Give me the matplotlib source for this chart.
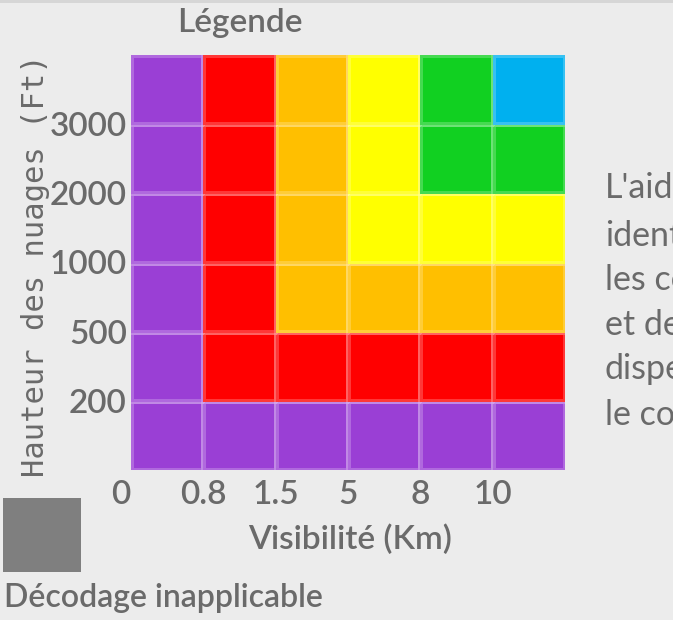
import matplotlib
matplotlib.use("Agg")
import matplotlib.pyplot as plt
from matplotlib.colors import ListedColormap, BoundaryNorm
from matplotlib.transforms import ScaledTranslation
import numpy as np

# ---- data ----
visibility_labels = ["0", "0.8", "1.5", "5", "8", "10"]
height_labels = ["200", "500", "1000", "2000", "3000"]
category_colors = ["#9a3fd5", "#ff0000", "#ffbf00", "#ffff00", "#11d021", "#00b0ef"]
# rows bottom -> top, columns left -> right; values index category_colors
grid_rows = [
    [0, 0, 0, 0, 0, 0],
    [0, 1, 1, 1, 1, 1],
    [0, 1, 2, 2, 2, 2],
    [0, 1, 2, 3, 3, 3],
    [0, 1, 2, 3, 4, 4],
    [0, 1, 2, 3, 4, 5],
]
side_lines = ["L'aid", "ident", "les co", "et de", "dispe", "le co"]

W, H = 673, 620
BG = "#ececec"
TXT = "#6a6a6a"
narrow = ["DejaVu Sans Condensed", "Liberation Sans Narrow", "Lato"]
WT = 600

fig = plt.figure(figsize=(W / 100, H / 100), dpi=100, facecolor=BG)

def fx(px):
    return px / W

def fy(py):
    return 1 - py / H

ax = fig.add_axes([fx(131), fy(470), fx(565) - fx(131), fy(55) - fy(470)])
ax.set_facecolor(BG)

data = np.array(grid_rows)
cmap = ListedColormap(category_colors)
norm = BoundaryNorm(np.arange(-0.5, len(category_colors) + 0.5, 1), cmap.N)
ax.pcolormesh(np.arange(data.shape[1] + 1), np.arange(data.shape[0] + 1), data,
              cmap=cmap, norm=norm, edgecolors=(1, 1, 1, 0.22), linewidth=2.2)
ax.set_xlim(0, data.shape[1])
ax.set_ylim(0, data.shape[0])
for s in ax.spines.values():
    s.set_visible(False)

ax.set_xticks(np.arange(len(visibility_labels)))
ax.set_xticklabels(visibility_labels, fontsize=24, color=TXT, family=narrow,
                   fontweight=WT)
ax.set_yticks(np.arange(1, len(height_labels) + 1))
ax.set_yticklabels(height_labels, fontsize=24, color=TXT, family=narrow,
                   fontweight=WT)
ax.tick_params(length=0, pad=3)
ax.tick_params(axis="x", pad=7)
# first x label sits a little left of the grid edge
xl = ax.get_xticklabels()
xl[0].set_transform(xl[0].get_transform() + ScaledTranslation(-0.1, 0, fig.dpi_scale_trans))

# texts
fig.text(fx(240), fy(23), "Légende", ha="center", va="center", fontsize=24,
         color=TXT, family=narrow, fontweight=WT)
fig.text(fx(36), fy(266), "Hauteur des nuages (Ft)", ha="center", va="center",
         rotation=90, fontsize=22, color=TXT, family=["DejaVu Sans Mono"])
fig.text(fx(350), fy(540), "Visibilité (Km)", ha="center", va="center", fontsize=24,
         color=TXT, family=narrow, fontweight=WT)
fig.text(fx(4), fy(598), "Décodage inapplicable", ha="left", va="center", fontsize=23,
         color=TXT, family=narrow, fontweight=WT)

# grey swatch
fig.patches.append(plt.Rectangle((fx(3), fy(572)), fx(81) - fx(3), fy(498) - fy(572),
                                 transform=fig.transFigure, facecolor="#7f7f7f",
                                 edgecolor="none"))

# side text (cut at the right edge)
ys = [188, 236, 280, 325, 369, 415]
for t, y in zip(side_lines, ys):
    fig.text(fx(605), fy(y), t, ha="left", va="center", fontsize=24.5, color=TXT,
             family=narrow)

# top strip
fig.patches.append(plt.Rectangle((0, fy(3)), 1, fy(0) - fy(3), transform=fig.transFigure,
                                 facecolor="#d6d6d6", edgecolor="none"))

fig.savefig("out.png", dpi=100, facecolor=BG)
